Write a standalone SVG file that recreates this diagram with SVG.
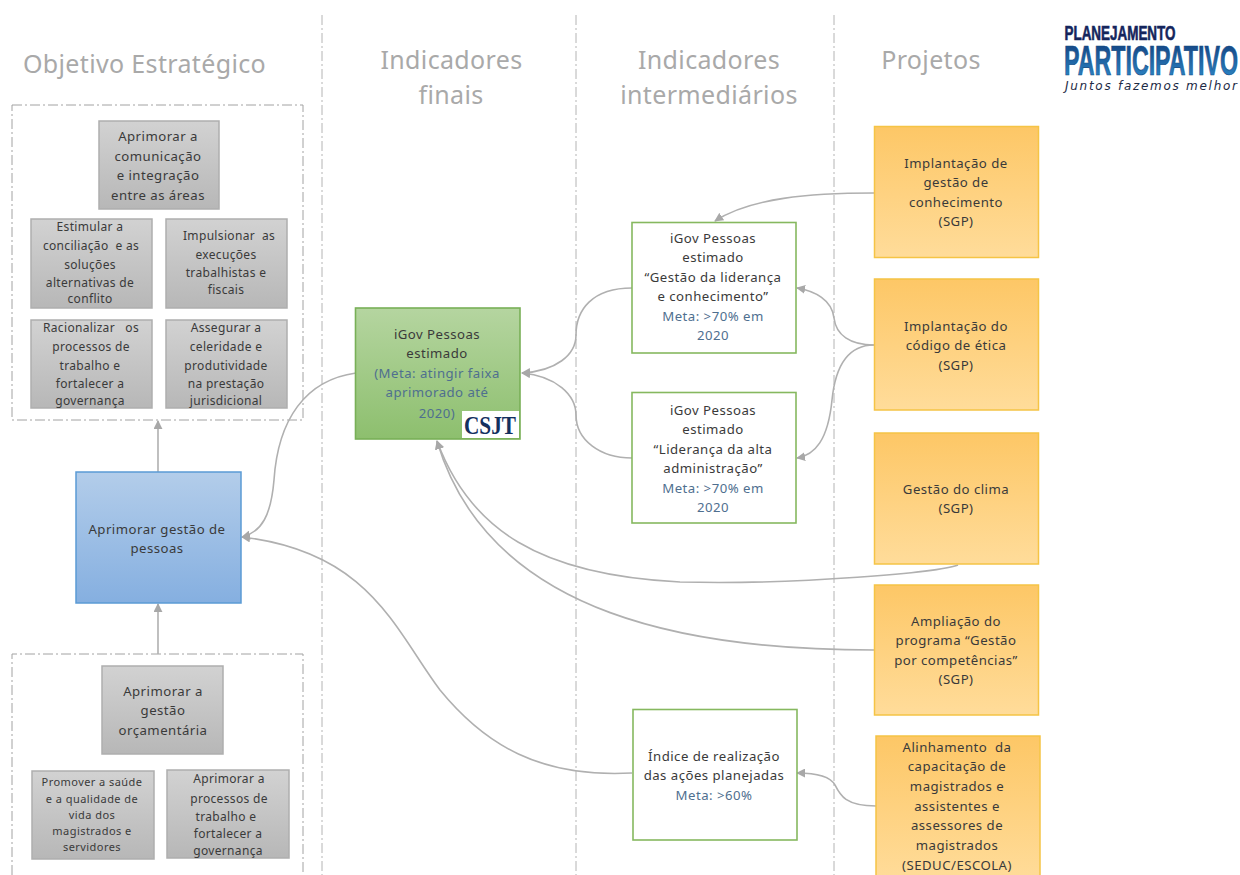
<svg xmlns="http://www.w3.org/2000/svg" width="1240" height="875" viewBox="0 0 1240 875">
<style>
text{font-family:"Noto Sans","Open Sans","DejaVu Sans",sans-serif;text-anchor:middle;fill:#3a3a3a;white-space:pre}
.t{font-size:13.2px;letter-spacing:.47px}
.s{font-size:12px;letter-spacing:.33px}
.x{font-size:11px;letter-spacing:.44px}
.m{fill:#4f6f8f}
.h{font-size:25px;fill:#a9a9a9;letter-spacing:.35px}
.sep,.box{fill:none;stroke:#b4b4b4;stroke-width:1;stroke-dasharray:10 3 2 3}
.box{fill:#fff;stroke:#a2a2a2}
.g{fill:url(#gg);stroke:#aeaeae;stroke-width:1.5}
.o{fill:url(#og);stroke:#f5c445;stroke-width:1.5}
.w{fill:#fff;stroke:#86b85f;stroke-width:1.6}
#c path{fill:none;stroke:#b0b0b0;stroke-width:1.6;marker-end:url(#a)}
</style>
<defs>
<linearGradient id="gg" x1="0" y1="0" x2="0" y2="1"><stop offset="0" stop-color="#d2d2d2"/><stop offset="1" stop-color="#b7b7b7"/></linearGradient>
<linearGradient id="og" x1="0" y1="0" x2="0" y2="1"><stop offset="0" stop-color="#fdc766"/><stop offset="1" stop-color="#ffdc9a"/></linearGradient>
<linearGradient id="bg" x1="0" y1="0" x2="0" y2="1"><stop offset="0" stop-color="#b3cdea"/><stop offset="1" stop-color="#85afe0"/></linearGradient>
<linearGradient id="vg" x1="0" y1="0" x2="0" y2="1"><stop offset="0" stop-color="#b5d5a0"/><stop offset="1" stop-color="#8dbf6e"/></linearGradient>
<linearGradient id="lg" x1="0" y1="0" x2="0" y2="1"><stop offset="0" stop-color="#103a78"/><stop offset="1" stop-color="#2f8fd0"/></linearGradient>
<marker id="a" viewBox="0 0 10 10" refX="9" refY="5" markerWidth="9" markerHeight="9" orient="auto" markerUnits="userSpaceOnUse"><path d="M0 0L10 5L0 10Z" fill="#a8a8a8" stroke="none" style="marker-end:none"/></marker>
</defs>
<rect width="1240" height="875" fill="#fff"/>
<g id="separators">
<path class="sep" d="M322 15V875"/><path class="sep" d="M576 15V875"/><path class="sep" d="M834 15V875"/>
</g>
<g id="titles">
<text class="h" x="144.500" y="73">Objetivo Estratégico</text>
<text class="h" x="451.500" y="69">Indicadores</text><text class="h" x="451" y="104">finais</text>
<text class="h" x="709" y="69">Indicadores</text><text class="h" x="709" y="104">intermediários</text>
<text class="h" x="931" y="69">Projetos</text>
</g>
<g id="group-top"><rect class="box" x="12" y="105" width="291" height="315"/></g>
<g id="group-bottom"><path class="box" d="M12 875V654H303V875"/></g>
<g id="c">
<path d="M158 472V421"/>
<path d="M158 654V604"/>
<path d="M356 373C305 380 278 420 274 480C271 515 262 532 242 537"/>
<path d="M632 773C540 778 485 745 440 690C395 630 370 552 242 537"/>
<path d="M632 288C592 288 576 310 576 335C576 355 556 371 522 373"/>
<path d="M632 458C600 458 576 440 576 415C576 395 556 376 522 373"/>
<path d="M874 193C810 193 750 198 715 221"/>
<path d="M874 345C850 345 836 335 834 318C832 300 815 291 797 288"/>
<path d="M874 345C845 345 835 370 832 400C828 440 815 455 797 458"/>
<path d="M958 565C940 572 800 585 680 582C540 575 470 530 437 441"/>
<path d="M874 650C700 650 490 620 437 441"/>
<path d="M876 806C845 806 840 795 835 785C830 776 815 773 797 773"/>
</g>
<g id="n1"><rect class="g" x="99" y="121" width="120" height="88"/><text class="t"><tspan x="158" y="141">Aprimorar a</tspan><tspan x="158" y="161">comunicação</tspan><tspan x="158" y="180">e integração</tspan><tspan x="158" y="200">entre as áreas</tspan></text></g>
<g id="n2"><rect class="g" x="31" y="219" width="121" height="89"/><text class="s"><tspan x="90" y="231">Estimular a</tspan><tspan x="91" y="250">conciliação  e as</tspan><tspan x="90" y="269">soluções</tspan><tspan x="90" y="287">alternativas de</tspan><tspan x="90" y="303">conflito</tspan></text></g>
<g id="n3"><rect class="g" x="166" y="219" width="121" height="89"/><text class="s"><tspan x="229" y="240">Impulsionar  as</tspan><tspan x="226" y="259">execuções</tspan><tspan x="226" y="277">trabalhistas e</tspan><tspan x="226" y="294">fiscais</tspan></text></g>
<g id="n4"><rect class="g" x="31" y="320" width="121" height="88"/><text class="s"><tspan x="91" y="332">Racionalizar   os</tspan><tspan x="91" y="351">processos de</tspan><tspan x="90" y="370">trabalho e</tspan><tspan x="90" y="388">fortalecer a</tspan><tspan x="90" y="405">governança</tspan></text></g>
<g id="n5"><rect class="g" x="166" y="320" width="121" height="88"/><text class="s"><tspan x="226" y="332">Assegurar a</tspan><tspan x="226" y="351">celeridade e</tspan><tspan x="226" y="370">produtividade</tspan><tspan x="226" y="388">na prestação</tspan><tspan x="226" y="405">jurisdicional</tspan></text></g>
<g id="n6"><rect x="76" y="472" width="165" height="131" fill="url(#bg)" stroke="#5b9bd5" stroke-width="1.5"/><text class="t"><tspan x="157" y="534">Aprimorar gestão de</tspan><tspan x="157" y="553">pessoas</tspan></text></g>
<g id="n7"><rect class="g" x="102" y="666" width="121" height="88"/><text class="t"><tspan x="163" y="696">Aprimorar a</tspan><tspan x="163" y="715">gestão</tspan><tspan x="163" y="735">orçamentária</tspan></text></g>
<g id="n8"><rect class="g" x="32" y="771" width="122" height="88"/><text class="x"><tspan x="92" y="786">Promover a saúde</tspan><tspan x="92" y="803">e a qualidade de</tspan><tspan x="92" y="819">vida dos</tspan><tspan x="92" y="835">magistrados e</tspan><tspan x="92" y="851">servidores</tspan></text></g>
<g id="n9"><rect class="g" x="167" y="770" width="122" height="88"/><text class="s"><tspan x="229" y="783">Aprimorar a</tspan><tspan x="229" y="803">processos de</tspan><tspan x="226" y="821">trabalho e</tspan><tspan x="228" y="838">fortalecer a</tspan><tspan x="228" y="855">governança</tspan></text></g>
<g id="n10"><rect x="355.500" y="308" width="164.500" height="131" fill="url(#vg)" stroke="#78b057" stroke-width="1.6"/><text class="t"><tspan x="437" y="339">iGov Pessoas</tspan><tspan x="437" y="358">estimado</tspan><tspan class="m" x="437" y="378">(Meta: atingir faixa</tspan><tspan class="m" x="437" y="397">aprimorado até</tspan><tspan class="m" x="437" y="418">2020)</tspan></text>
<rect x="462" y="411" width="57" height="27" fill="#fff"/><text x="490" y="434" textLength="52" lengthAdjust="spacingAndGlyphs" style="font-family:'Liberation Serif',serif;font-weight:bold;font-size:25px;letter-spacing:0;fill:#14305f">CSJT</text></g>
<g id="n11"><rect class="w" x="632" y="222.500" width="164" height="130.500"/><text class="t"><tspan x="713" y="243">iGov Pessoas</tspan><tspan x="713" y="262">estimado</tspan><tspan x="713" y="282">“Gestão da liderança</tspan><tspan x="713" y="301">e conhecimento”</tspan><tspan class="m" x="713" y="321">Meta: &gt;70% em</tspan><tspan class="m" x="713" y="340">2020</tspan></text></g>
<g id="n12"><rect class="w" x="632" y="392.500" width="164" height="130.500"/><text class="t"><tspan x="713" y="415">iGov Pessoas</tspan><tspan x="713" y="434">estimado</tspan><tspan x="713" y="454">“Liderança da alta</tspan><tspan x="713" y="473">administração”</tspan><tspan class="m" x="713" y="493">Meta: &gt;70% em</tspan><tspan class="m" x="713" y="512">2020</tspan></text></g>
<g id="n13"><rect class="w" x="633" y="709.500" width="164" height="130.500"/><text class="t"><tspan x="714" y="761">Índice de realização</tspan><tspan x="714" y="780">das ações planejadas</tspan><tspan class="m" x="714" y="800">Meta: &gt;60%</tspan></text></g>
<g id="n14"><rect class="o" x="874.500" y="126.500" width="164" height="131"/><text class="t"><tspan x="956" y="168">Implantação de</tspan><tspan x="956" y="187">gestão de</tspan><tspan x="956" y="207">conhecimento</tspan><tspan x="956" y="226">(SGP)</tspan></text></g>
<g id="n15"><rect class="o" x="874.500" y="279" width="164" height="131"/><text class="t"><tspan x="956" y="331">Implantação do</tspan><tspan x="956" y="350">código de ética</tspan><tspan x="956" y="370">(SGP)</tspan></text></g>
<g id="n16"><rect class="o" x="874.500" y="433" width="164" height="131"/><text class="t"><tspan x="956" y="494">Gestão do clima</tspan><tspan x="956" y="513">(SGP)</tspan></text></g>
<g id="n17"><rect class="o" x="874.500" y="585" width="164" height="130"/><text class="t"><tspan x="956" y="626">Ampliação do</tspan><tspan x="956" y="645">programa “Gestão</tspan><tspan x="956" y="665">por competências”</tspan><tspan x="956" y="684">(SGP)</tspan></text></g>
<g id="n18"><rect class="o" x="876" y="736" width="164" height="145"/><text class="t"><tspan x="957" y="752">Alinhamento  da</tspan><tspan x="957" y="771">capacitação de</tspan><tspan x="957" y="791">magistrados e</tspan><tspan x="957" y="811">assistentes e</tspan><tspan x="957" y="830">assessores de</tspan><tspan x="957" y="850">magistrados</tspan><tspan x="957" y="870">(SEDUC/ESCOLA)</tspan></text></g>
<g id="logo">
<text x="1120" y="40" textLength="111" lengthAdjust="spacingAndGlyphs" style="font-family:'Liberation Sans',sans-serif;font-weight:bold;font-size:20px;fill:#14255c;stroke:#14255c;stroke-width:.6">PLANEJAMENTO</text>
<text x="1151" y="75" textLength="174" lengthAdjust="spacingAndGlyphs" style="font-family:'Liberation Sans',sans-serif;font-weight:bold;font-size:42px;fill:url(#lg);stroke:#14487f;stroke-width:.7">PARTICIPATIVO</text>
<text x="1151" y="90" textLength="172" lengthAdjust="spacing" style="font-family:'DejaVu Sans',sans-serif;font-style:italic;font-size:12px;fill:#1d2a45">Juntos fazemos melhor</text>
</g>
</svg>
